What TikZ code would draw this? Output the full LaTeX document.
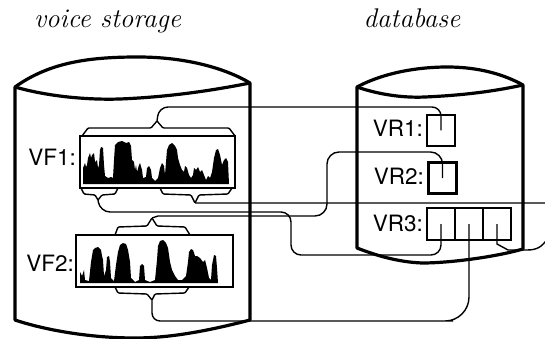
\documentclass[tikz,border=0pt]{standalone}
\usepackage{fontspec}
\setsansfont{TeX Gyre Heros}
\usetikzlibrary{positioning, calc}

\begin{document}
\begin{tikzpicture}[
  x=1pt, y=-1pt,
  drum/.style={line width=3.2pt, line join=round},
  frame/.style={rectangle, draw, line width=2.8pt, inner sep=0pt},
  cell/.style={rectangle, draw, line width=2.5pt, inner sep=0pt, outer sep=0pt,
    minimum width=28pt, minimum height=31pt},
  brace/.style={line width=1.4pt, rounded corners=1pt},
  conn/.style={line width=1.4pt},
  wave/.style={fill=black},
  lbl/.style={font=\sffamily\fontsize{22.5}{24}\selectfont, inner sep=0pt},
  ttl/.style={font=\itshape\fontsize{27}{29}\selectfont, inner sep=0pt},
]
\useasboundingbox (0,0) rectangle (545,339);
\clip (0,0) rectangle (545,339);
\node[ttl, anchor=base] (tvoice) at (107.5,28) {voice storage};
\node[ttl, anchor=base] (tdb)    at (412,28)   {database};
\draw[drum] (15,87) .. controls (50,62) and (90,57) .. (138,57)
  .. controls (185,57) and (225,68) .. (250,83) -- (250,320)
  .. controls (200,333) and (165,338) .. (135,338)
  .. controls (90,338) and (45,330) .. (15,320) -- cycle;
\draw[drum] (15,87) .. controls (50,97) and (90,100) .. (120,99)
  .. controls (170,97) and (215,90) .. (250,83);
\draw[drum] (357,87) .. controls (385,72) and (420,67) .. (447,67)
  .. controls (480,67) and (505,75) .. (523,85) -- (523,249)
  .. controls (495,257) and (450,263) .. (422,263)
  .. controls (397,262) and (375,255) .. (357,248) -- cycle;
\draw[drum] (357,87) .. controls (380,95) and (405,98) .. (425,97)
  .. controls (470,95) and (500,90) .. (523,85);
\fill[wave] plot coordinates {(83,184) (83,168) (85,163) (86,167) (87,165) (88,158)
  (90,153) (91,158) (92,155) (94,153) (95,162) (97,160) (98,168) (99,165) (100,150) (101,147)
  (103,148) (104,165) (105,176) (108,178) (111,177) (113,178) (114,160)
  (115,145) (118,142) (122,141) (126,143) (129,142) (131,146) (132,160)
  (134,162) (135,170) (136,165) (137,172) (139,165) (140,163) (142,170) (143,178)
  (146,177) (147,168) (149,166) (151,170) (152,178) (155,181) (158,178)
  (160,168) (162,163) (164,166) (165,175) (166,162) (167,150) (169,145)
  (172,143) (175,146) (177,150) (178,158) (180,165) (182,170) (184,172) (185,166)
  (187,168) (189,175) (191,178) (193,175) (194,168) (196,170) (198,167)
  (200,172) (202,170) (204,175) (206,180) (208,176) (210,178) (212,172)
  (214,158) (216,150) (218,149) (220,155) (222,165) (224,160) (226,158)
  (228,162) (229,184)} -- cycle;
\fill[wave] plot coordinates {(80,283) (80,272) (82,276) (84,270) (85,280)
  (89,281) (91,262) (93,250) (95,248) (98,247) (101,250) (102,256) (103,260) (104,276)
  (106,270) (107,257) (109,256) (110,262) (111,278) (114,281) (116,265)
  (118,252) (120,245) (123,243) (126,244) (128,250) (130,262) (131,278)
  (135,282) (139,280) (140,266) (142,264) (144,266) (145,280) (150,282)
  (155,280) (157,260) (158,246) (160,241) (163,240) (166,243) (168,248)
  (170,262) (172,270) (175,276) (178,280) (182,280) (186,276) (188,262)
  (189,252) (191,249) (193,250) (195,256) (197,256) (200,258) (203,262)
  (205,260) (207,268) (209,278) (211,280) (212,265) (214,255) (216,256)
  (217,268) (218,283)} -- cycle;
\node[frame, minimum width=155pt, minimum height=52pt] (vf1) at (157.5,162) {};
\node[frame, minimum width=157pt, minimum height=52pt] (vf2) at (154.5,261) {};
\node[lbl, anchor=east] (lvf1) at (76,157) {VF1:};
\node[lbl, anchor=east] (lvf2) at (74,263) {VF2:};
\node[cell] (vr1) at (441,130.5) {};
\node[cell] (vr2) at (442.5,178) {};
\node[cell, minimum height=32pt] (vr3a) at (441,224) {};
\node[cell, minimum height=32pt, right=0pt of vr3a] (vr3b) {};
\node[cell, minimum height=32pt, right=0pt of vr3b] (vr3c) {};
\node[lbl, anchor=east] (lvr1) at (423,128.5) {VR1:};
\node[lbl, anchor=east] (lvr2) at (424,176)   {VR2:};
\node[lbl, anchor=east] (lvr3) at (423,223)   {VR3:};
\coordinate (vf1top) at (157,121);
\coordinate (vf1bl)  at (98,200);
\coordinate (vf1br)  at (195,203);
\coordinate (vf2top) at (152,218);
\coordinate (vf2bot) at (152,300);
\draw[brace] (82,136) -- (88,128) -- (151,128) -- (vf1top) -- (163,128)
  -- (229,128) -- (235,136);
\draw[brace] (81,188) -- (84,194) -- (95,195) -- (vf1bl) -- (102,195)
  -- (115,194) -- (118,188);
\draw[brace] (160,188) -- (163,194) -- (191,195) -- (vf1br) -- (199,195)
  -- (228,194) -- (232,188);
\draw[brace] (115,235) -- (118,227) -- (147,226) -- (vf2top) -- (157,226)
  -- (185,227) -- (190,235);
\draw[brace] (115,287) -- (118,293) -- (147,294) -- (vf2bot) -- (155,294)
  -- (185,293) -- (189,287);
\draw[conn, rounded corners=9pt] (vf1top) -- (159,107) -- (441,107) -- (vr1.center);
\draw[conn, rounded corners=10pt] (vf1bl) -- (100,212) -- (291,212) -- (291,255)
  -- (441,255) -- (vr3a.center);
\draw[conn] (vf1br) -- (552,203) .. controls (575,203) and (562,230) .. (548,238)
  .. controls (542,247) and (537,250) .. (527,250) -- (508,250) -- (497,244)
  -- (vr3c.center);
\draw[conn] (vf2top) -- (158,216) -- (170,216) [rounded corners=12pt] -- (327,216)
  -- (327,152) -- (442.5,152) -- (vr2.center);
\draw[conn] (vf2bot) [rounded corners=8pt] -- (152,321) -- (445,321)
  [rounded corners=24pt] -- (469,321) -- (vr3b.center);
\end{tikzpicture}
\end{document}
